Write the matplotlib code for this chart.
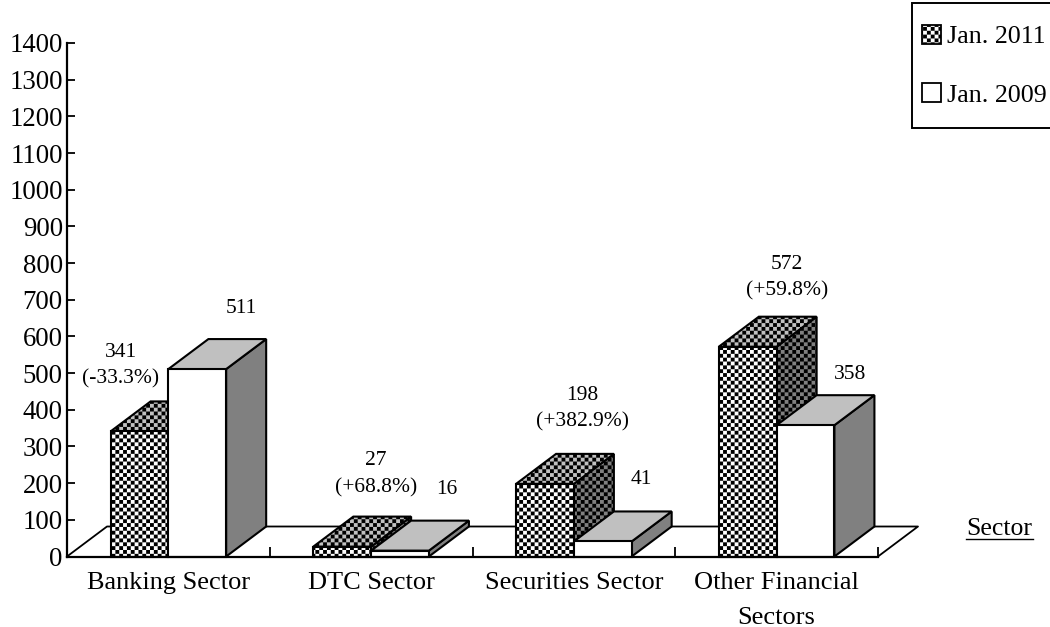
import numpy as np
import matplotlib
matplotlib.use("Agg")
import matplotlib.pyplot as plt
import matplotlib.hatch as mhatch
from matplotlib.path import Path
from matplotlib.patches import Polygon, Rectangle, Patch

categories = ["Banking Sector", "DTC Sector", "Securities Sector", "Other Financial\nSectors"]
jan_2011 = [341, 27, 198, 572]
jan_2009 = [511, 16, 41, 358]
labels_2011 = ["341\n(-33.3%)", "27\n(+68.8%)", "198\n(+382.9%)", "572\n(+59.8%)"]
labels_2009 = ["511", "16", "41", "358"]
y_ticks = list(range(0, 1401, 100))

plt.rcParams["font.family"] = ["Liberation Serif", "DejaVu Serif"]
plt.rcParams["hatch.linewidth"] = 0.0


class Checker(mhatch.HatchPatternBase):
    N = 26

    def __init__(self, hatch, density):
        self.on = hatch.count("#") > 0
        self.cells = [(i, j) for i in range(self.N) for j in range(self.N) if (i + j) % 2 == 0]
        self.num_vertices = 5 * len(self.cells) if self.on else 0

    def set_vertices_and_codes(self, vertices, codes):
        if not self.on:
            return
        s = 1.0 / self.N
        sq = np.array([[0, 0], [1, 0], [1, 1], [0, 1], [0, 0]], float)
        for k, (i, j) in enumerate(self.cells):
            vertices[5 * k:5 * k + 5] = (sq + (i, j)) * s
            codes[5 * k:5 * k + 5] = [Path.MOVETO, Path.LINETO, Path.LINETO, Path.LINETO, Path.CLOSEPOLY]


mhatch._hatch_types.append(Checker)

W, H = 1050, 627
fig = plt.figure(figsize=(W / 100, H / 100), dpi=100, facecolor="white")
ax = fig.add_axes([67 / W, (H - 556.5) / H, 811 / W, 513.5 / H])
ax.set_xlim(0, 4)
ax.set_ylim(0, 1400)
ax.patch.set_visible(False)

DX, DY = 40 / 202.75, 30 / 513.5 * 1400
BW = 57.8 / 202.75
LW = 1.5

# back wall and floor outline
ax.plot([0, DX, 4 + DX, 4], [0, DY, DY, 0], color="black", lw=1.3, clip_on=False, zorder=1)


def bar(x0, v, hatch, z):
    x1 = x0 + BW
    kw = dict(edgecolor="black", lw=LW, closed=True, clip_on=False, zorder=z, joinstyle="miter")
    if hatch:
        kw["hatch"] = "#"
    ax.add_patch(Polygon([(x1, 0), (x1 + DX, DY), (x1 + DX, v + DY), (x1, v)], facecolor="#808080", **kw))
    ax.add_patch(Polygon([(x0, v), (x1, v), (x1 + DX, v + DY), (x0 + DX, v + DY)], facecolor="#c0c0c0", **kw))
    ax.add_patch(Polygon([(x0, 0), (x1, 0), (x1, v), (x0, v)], facecolor="white", **kw))


for i in range(len(categories)):
    c = i + 0.5
    bar(c - BW, jan_2011[i], True, 3 + 2 * i)
    bar(c, jan_2009[i], False, 4 + 2 * i)

# value labels
label_a_x = [-0.234, 0.025, 0.044, 0.05]
label_a_y = [520, 224, 403, 760]
label_b_x = [0.358, 0.375, 0.335, 0.36]
label_b_y = [675, 182, 210, 496]
for i in range(len(categories)):
    ax.text(i + 0.5 + label_a_x[i], label_a_y[i], labels_2011[i], ha="center", va="center",
            fontsize=15.5, linespacing=1.55, zorder=20)
    ax.text(i + 0.5 + label_b_x[i], label_b_y[i], labels_2009[i], ha="center", va="center",
            fontsize=15.5, zorder=20)

for s in ("top", "right"):
    ax.spines[s].set_visible(False)
for s in ("left", "bottom"):
    ax.spines[s].set_linewidth(1.6)
    ax.spines[s].set_zorder(30)
ax.set_yticks(y_ticks)
ax.set_yticklabels([str(t) for t in y_ticks], fontsize=19.3)
ax.tick_params(axis="y", direction="in", length=6, width=1.3, pad=3)
ax.set_xticks([1, 2, 3, 4])
ax.set_xticklabels([])
ax.tick_params(axis="x", direction="in", length=7, width=1.3)
ax.set_xticks([0.5, 1.5, 2.5, 3.5], categories, minor=True, fontsize=19, linespacing=1.78, va="top")
ax.tick_params(axis="x", which="minor", length=0, pad=11)

fig.text(999.5 / W, 1 - 529 / H, "Sector", ha="center", va="center", fontsize=18.5, zorder=20)
fig.add_artist(plt.Line2D([966 / W, 1033 / W], [1 - 539 / H] * 2, color="black", lw=1))

# legend
fig.add_artist(Rectangle((912 / W, 1 - 128 / H), 150 / W, 125 / H, transform=fig.transFigure,
                         facecolor="white", edgecolor="black", lw=1.4, clip_on=False))
leg = fig.legend(handles=[Patch(facecolor="white", edgecolor="black", hatch="#", lw=1.3, label="Jan. 2011"),
                          Patch(facecolor="white", edgecolor="black", lw=1.3, label="Jan. 2009")],
                 loc="upper left", bbox_to_anchor=(922 / W, 1 - 25 / H), bbox_transform=fig.transFigure,
                 fontsize=18.7, handlelength=0.73, handleheight=0.73, handletextpad=0.22, labelspacing=1.35,
                 borderaxespad=0, borderpad=0, frameon=False)
leg.set_zorder(40)

fig.savefig("out.png", dpi=100)
